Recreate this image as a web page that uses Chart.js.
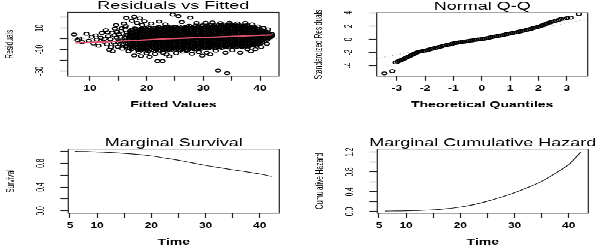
<!DOCTYPE html>
<html>
<head>
<meta charset="utf-8">
<script src="https://cdn.jsdelivr.net/npm/chart.js@4.4.0/dist/chart.umd.min.js"></script>
<style>
  html, body { margin: 0; padding: 0; background: #fff; overflow: hidden; }
  /* the original figure is squeezed vertically, so draw tall and squeeze */
  #sheet { position: relative; width: 600px; height: 412px; transform: scaleY(0.5995); transform-origin: 0 0; }
  #sheet canvas { position: absolute; }
</style>
</head>
<body>
<div id="sheet">
  <canvas id="fit-chart" width="300" height="206" style="left:0;top:0"></canvas>
  <canvas id="qq-chart" width="300" height="206" style="left:300px;top:0"></canvas>
  <canvas id="surv-chart" width="300" height="206" style="left:0;top:206px"></canvas>
  <canvas id="haz-chart" width="300" height="206" style="left:300px;top:206px"></canvas>
</div>
<script>
// ---- Residuals vs Fitted ----
// dense part of the cloud: fitted value, then the residuals read at it
const coreColumns = [
  [16.4, -7.0, -4.4, -1.6, 1.0, 3.6],
  [17.0, -8.2, -5.4, -3.1, -0.5, 1.9, 4.0, 6.9],
  [17.3, -9.8, -7.1, -4.6, -2.0, 0.6, 2.9, 5.6, 8.3],
  [17.6, -9.0, -6.6, -4.0, -1.8, 0.7, 3.0, 5.5, 8.1],
  [17.9, -8.0, -5.3, -2.8, -0.4, 1.9, 4.4, 6.8, 9.6],
  [18.2, -7.5, -5.1, -2.9, -0.2, 2.3, 4.5, 7.1, 9.2],
  [18.5, -10.2, -8.6, -6.1, -3.6, -1.1, 1.2, 3.7, 6.2, 8.5],
  [18.8, -9.7, -7.1, -4.5, -2.2, 0.3, 2.6, 5.0, 7.8],
  [19.1, -9.9, -7.5, -5.1, -2.6, -0.2, 2.3, 4.7, 7.2, 9.6],
  [19.4, -8.8, -6.2, -3.9, -1.3, 1.1, 3.4, 6.0, 8.5, 10.3],
  [19.7, -10.9, -9.6, -7.0, -4.6, -2.1, 0.2, 2.6, 5.2, 7.6, 9.8],
  [20.0, -10.4, -7.9, -5.4, -3.0, -0.8, 1.7, 4.1, 6.4, 9.1],
  [20.3, -11.5, -8.6, -6.2, -3.7, -1.4, 1.0, 3.3, 5.8, 8.3, 10.7],
  [20.6, -9.3, -6.8, -4.5, -1.9, 0.5, 2.7, 5.3, 7.5, 10.0],
  [20.9, -10.3, -8.0, -5.6, -3.1, -0.7, 1.9, 4.2, 6.8, 9.1],
  [21.2, -11.0, -8.4, -5.8, -3.6, -1.0, 1.4, 3.6, 6.2, 8.6],
  [21.5, -9.6, -7.1, -4.6, -2.2, 0.2, 2.7, 5.0, 7.6, 10.1],
  [21.8, -9.8, -7.3, -5.1, -2.5, -0.3, 2.1, 4.7, 7.0, 9.7],
  [22.1, -10.6, -8.1, -5.6, -3.1, -0.8, 1.6, 4.1, 6.5, 9.0, 11.1],
  [22.4, -11.2, -8.7, -6.1, -3.9, -1.3, 1.0, 3.5, 5.8, 8.4, 10.5],
  [22.7, -9.5, -7.0, -4.4, -2.1, 0.4, 2.8, 5.2, 7.6, 10.0],
  [23.0, -10.1, -7.6, -5.2, -2.8, -0.6, 1.9, 4.2, 6.9, 9.3],
  [23.3, -10.6, -8.1, -5.8, -3.3, -0.9, 1.4, 3.8, 6.3, 8.7, 11.2],
  [23.6, -11.0, -8.9, -6.3, -4.1, -1.5, 0.9, 3.1, 5.7, 8.0, 10.4],
  [23.9, -10.2, -7.9, -5.4, -3.1, -0.7, 1.8, 4.2, 6.5, 9.0, 11.1],
  [24.2, -9.5, -7.2, -4.6, -2.4, 0.1, 2.4, 5.0, 7.2, 9.8],
  [24.5, -9.2, -6.9, -4.4, -2.0, 0.5, 2.9, 5.2, 7.7, 10.1],
  [24.8, -10.7, -8.2, -6.0, -3.4, -1.0, 1.4, 3.6, 6.2, 8.5, 11.0],
  [25.1, -10.1, -7.8, -5.4, -2.9, -0.4, 2.0, 4.4, 6.9, 9.2, 11.4],
  [25.4, -9.2, -6.9, -4.3, -2.1, 0.5, 2.7, 5.3, 7.7, 9.9],
  [25.7, -10.1, -7.7, -5.2, -2.8, -0.2, 2.1, 4.6, 7.0, 9.4],
  [26.0, -10.5, -8.1, -5.5, -3.3, -0.7, 1.5, 4.1, 6.3, 8.8],
  [26.3, -9.7, -7.4, -4.9, -2.4, -0.1, 2.3, 4.7, 7.2, 9.6, 11.5],
  [26.6, -9.0, -6.5, -4.3, -1.7, 0.5, 3.1, 5.3, 7.9, 10.2],
  [26.9, -9.2, -6.8, -4.4, -2.0, 0.4, 2.9, 5.3, 7.6, 10.1],
  [27.2, -10.3, -7.9, -5.3, -3.1, -0.5, 1.7, 4.3, 6.5, 9.0, 11.3],
  [27.5, -9.6, -7.2, -4.7, -2.3, 0.1, 2.5, 4.9, 7.3, 9.8, 12.1],
  [27.8, -8.8, -6.4, -4.2, -1.6, 0.8, 3.0, 5.6, 7.8, 10.3],
  [28.1, -8.9, -6.5, -4.0, -1.6, 0.9, 3.3, 5.7, 8.1, 10.6],
  [28.4, -9.8, -7.5, -4.9, -2.7, -0.1, 2.3, 4.5, 7.1, 9.3, 11.6],
  [28.7, -9.3, -6.9, -4.4, -2.0, 0.4, 2.8, 5.2, 7.7, 10.1, 12.3],
  [29.0, -8.5, -6.3, -3.7, -1.5, 1.1, 3.3, 5.9, 8.1, 10.7],
  [29.3, -8.6, -6.2, -3.8, -1.4, 1.0, 3.4, 5.8, 8.3, 10.9],
  [29.6, -9.4, -7.0, -4.8, -2.2, 0.0, 2.6, 4.8, 7.4, 9.6, 12.0],
  [29.9, -9.0, -6.6, -4.1, -1.7, 0.7, 3.1, 5.6, 8.0, 10.4, 12.6],
  [30.2, -8.2, -5.8, -3.6, -1.0, 1.2, 3.8, 6.0, 8.6, 10.8],
  [30.5, -8.3, -5.9, -3.5, -1.1, 1.4, 3.8, 6.2, 8.7, 11.1],
  [30.8, -9.1, -6.9, -4.3, -2.1, 0.5, 2.7, 5.3, 7.5, 10.1, 12.2],
  [31.1, -8.6, -6.2, -3.8, -1.3, 1.1, 3.5, 6.0, 8.4, 10.8, 12.9],
  [31.4, -7.8, -5.6, -3.0, -0.8, 1.8, 4.0, 6.6, 8.8, 11.4],
  [31.7, -7.9, -5.5, -3.1, -0.6, 1.8, 4.2, 6.6, 9.1, 11.6],
  [32.0, -8.7, -6.3, -4.1, -1.5, 0.7, 3.3, 5.5, 8.1, 10.3, 12.5],
  [32.3, -8.4, -6.0, -3.6, -1.1, 1.3, 3.7, 6.2, 8.6, 11.0, 13.2],
  [32.6, -7.5, -5.3, -2.7, -0.5, 2.1, 4.3, 6.9, 9.1, 11.5],
  [32.9, -7.7, -5.3, -2.9, -0.4, 2.0, 4.4, 6.8, 9.3, 11.8],
  [33.2, -8.4, -6.2, -3.6, -1.4, 1.2, 3.4, 6.0, 8.2, 10.8, 12.8],
  [33.5, -8.1, -5.7, -3.3, -0.8, 1.6, 4.0, 6.5, 8.9, 11.3, 13.4],
  [33.8, -7.2, -5.0, -2.4, -0.2, 2.4, 4.6, 7.2, 9.4, 11.8],
  [34.1, -7.4, -5.0, -2.6, -0.1, 2.3, 4.7, 7.1, 9.6, 12.0],
  [34.4, -8.1, -5.9, -3.3, -1.1, 1.5, 3.7, 6.3, 8.5, 11.1, 13.0],
  [34.7, -7.8, -5.4, -2.9, -0.5, 1.9, 4.4, 6.8, 9.2, 11.7, 13.6],
  [35.0, -6.9, -4.7, -2.1, 0.1, 2.7, 4.9, 7.5, 9.7, 12.1],
  [35.3, -7.1, -4.6, -2.2, 0.2, 2.6, 5.1, 7.5, 9.9, 12.3],
  [35.6, -7.8, -5.4, -3.2, -0.6, 1.6, 4.2, 6.4, 9.0, 11.2, 13.1],
  [35.9, -7.4, -5.0, -2.5, -0.1, 2.3, 4.8, 7.2, 9.6, 12.0],
  [36.2, -6.7, -4.5, -1.9, 0.3, 2.9, 5.1, 7.7, 9.9, 12.2],
  [36.5, -6.9, -4.4, -2.0, 0.4, 2.9, 5.3, 7.7, 10.1, 12.4],
  [36.8, -7.5, -5.3, -2.7, -0.5, 2.1, 4.3, 6.9, 9.1, 11.4],
  [37.1, -7.0, -4.6, -2.2, 0.3, 2.7, 5.1, 7.5, 9.8, 12.0],
  [37.4, -6.4, -4.2, -1.6, 0.6, 3.2, 5.4, 8.0, 10.2, 12.3],
  [37.7, -6.6, -4.2, -1.7, 0.7, 3.1, 5.6, 8.0, 10.4, 12.6],
  [38.0, -7.1, -4.9, -2.3, -0.1, 2.5, 4.7, 7.3, 9.5, 11.5],
  [38.3, -6.3, -3.9, -1.4, 1.0, 3.4, 5.9, 8.3, 10.4],
  [38.6, -5.8, -3.6, -1.0, 1.2, 3.8, 6.0, 8.6, 10.7],
  [38.9, -6.0, -3.6, -1.2, 1.3, 3.7, 6.1, 8.6, 10.6],
  [39.2, -6.5, -4.3, -1.7, 0.5, 3.1, 5.3, 7.9, 9.9],
  [39.5, -5.2, -2.8, -0.3, 2.1, 4.5, 6.9, 9.2],
  [39.8, -4.8, -2.6, 0.0, 2.2, 4.8, 7.0, 9.1],
  [40.1, -4.3, -1.9, 0.6, 3.0, 5.4, 7.6],
  [40.4, -3.5, -1.3, 1.3, 3.5, 5.9, 8.0],
  [40.7, -2.6, -0.1, 2.3, 4.6, 6.9],
  [41.0, -1.9, 0.6, 2.8, 5.3, 6.9],
  [41.3, -0.7, 1.8, 4.0, 6.1],
  [41.6, 0.9, 3.1, 5.0],
  [41.9, 1.6, 3.4],
  [42.1, 2.5, 4.3]
];
// scattered points around the cloud: [fitted, residual]
const outerPoints = [
  [7.2, 4.0], [7.8, -1.2], [8.1, 0.3], [8.6, -3.1], [9.4, 4.6], [9.8, -1.8], [10.3, 1.9],
  [10.6, -4.4], [11.0, 3.2], [11.2, -0.8], [11.5, -6.5], [11.9, 1.0], [12.1, 5.4], [12.4, -2.7],
  [12.6, 0.2], [12.8, 8.0], [13.0, -5.0], [13.1, 6.2], [13.2, 2.4], [13.4, -10.2], [13.6, -0.4],
  [13.7, -7.7], [13.9, 5.8], [14.0, -11.6], [14.2, -3.6], [14.3, 3.3], [14.4, 9.5], [14.5, -5.2],
  [14.6, 12.7], [14.7, 1.1], [14.8, 6.4], [14.9, -7.4], [15.0, -2.8], [15.1, 4.2], [15.3, -1.9],
  [15.4, 1.9], [15.5, 7.3], [15.6, 9.8], [15.7, -9.3], [15.8, -6.0], [15.9, -4.8], [16.0, 14.2],
  [16.1, 0.6], [16.2, 10.6], [16.2, -2.1], [16.3, 12.0], [16.4, 19.5], [16.4, -6.8], [16.5, 5.9],
  [16.6, 3.8], [16.7, -8.7], [16.8, -11.6], [17.4, 16.8], [17.8, 20.5], [18.3, 14.8], [18.8, 19.0],
  [19.2, 12.9], [19.6, 16.4], [20.8, 14.3], [22.2, 16.0], [23.3, 13.4], [24.6, 22.6], [25.6, 21.0],
  [26.2, 15.5], [27.7, 19.7], [28.8, 14.8], [30.4, 14.9], [31.6, 15.2], [33.0, 14.6], [34.6, 15.0],
  [36.0, 14.4], [37.4, 14.8], [38.6, 13.4], [39.6, 11.6], [40.6, 10.0], [41.4, 8.8], [41.2, -4.6],
  [40.2, -7.6], [39.2, -9.7], [38.4, -11.6], [37.8, -9.8], [36.5, -12.9], [35.1, -10.6], [33.9, -12.9],
  [32.2, -11.0], [31.2, -14.4], [30.6, -12.9], [29.8, -15.6], [29.2, -12.4], [28.0, -13.9], [27.1, -11.2],
  [26.4, -12.0], [25.2, -13.3], [24.0, -16.2], [23.5, -14.6], [22.9, -13.0], [22.8, -20.8], [21.9, -20.8],
  [21.5, -14.1], [20.5, -16.8], [20.0, -13.4], [19.0, -16.0], [18.6, -12.3], [17.8, -15.5],
  [32.6, -29.5], [34.2, -32.0]
];
const smoothFitted = [7.4, 10, 13, 16, 19, 22, 25, 28, 31, 34, 37, 40, 42.2];
const smoothResid = [-3.7, -3.4, -2.8, -2.0, -1.2, -0.4, 0.3, 0.9, 1.5, 2.0, 2.6, 3.2, 3.6];
const fittedRange = [6.07, 43.35];
const residRange = [-34.65, 24.65];
const fittedTicks = [10, 15, 20, 25, 30, 35, 40];
const fittedLabelled = [10, 20, 30, 40];
const residTicks = [-30, -20, -10, 0, 10, 20];
const residLabelled = [10, -10, -30];

// ---- Normal Q-Q ----
const qqTheoretical = [-3.44, -3.16, -3.04, -2.97, -2.91, -2.86, -2.81, -2.76, -2.71, -2.66,
  -2.61, -2.56, -2.51, -2.46, -2.41, -2.36, -2.31, -2.26, -2.20, -2.14,
  -2.07, -2.00, -1.93, -1.86, -1.79, -1.72, -1.65, -1.58, -1.51, -1.44,
  -1.37, -1.30, -1.23, -1.16, -1.09, -1.02, -0.95, -0.88, -0.81, -0.74,
  -0.67, -0.60, -0.53, -0.46, -0.39, -0.32, -0.25, -0.18, -0.11, -0.04,
  0.03, 0.10, 0.17, 0.24, 0.31, 0.38, 0.45, 0.52, 0.59, 0.66,
  0.73, 0.80, 0.87, 0.94, 1.01, 1.08, 1.15, 1.22, 1.29, 1.36,
  1.43, 1.50, 1.57, 1.64, 1.71, 1.78, 1.85, 1.92, 1.99, 2.05,
  2.11, 2.17, 2.23, 2.29, 2.35, 2.41, 2.47, 2.54, 2.62, 2.71,
  2.80, 2.90, 3.01, 3.14, 3.43];
const qqStdResid = [-5.15, -4.80, -3.48, -3.37, -3.25, -3.17, -3.06, -2.98, -2.86, -2.78,
  -2.66, -2.57, -2.44, -2.36, -2.23, -2.14, -2.02, -1.95, -1.86, -1.83,
  -1.75, -1.71, -1.61, -1.56, -1.46, -1.40, -1.31, -1.25, -1.15, -1.09,
  -1.00, -0.94, -0.85, -0.80, -0.70, -0.65, -0.57, -0.54, -0.47, -0.44,
  -0.37, -0.35, -0.28, -0.25, -0.18, -0.16, -0.09, -0.07, -0.01, 0.00,
  0.07, 0.10, 0.18, 0.22, 0.30, 0.34, 0.42, 0.46, 0.54, 0.58,
  0.66, 0.70, 0.78, 0.82, 0.90, 0.94, 1.02, 1.06, 1.15, 1.19,
  1.28, 1.32, 1.42, 1.48, 1.58, 1.64, 1.74, 1.80, 1.90, 1.97,
  2.08, 2.15, 2.28, 2.36, 2.50, 2.56, 2.65, 2.71, 2.83, 2.94,
  3.07, 3.13, 3.22, 3.29, 3.83];
const qqLineIntercept = 0.07;
const qqLineSlope = 0.8;
const qqXRange = [-3.71, 3.74];
const qqYRange = [-5.56, 4.03];
const qqXTicks = [-3, -2, -1, 0, 1, 2, 3];
const qqYTicks = [-4, -2, 0, 2, 4];

// ---- Marginal Survival / Cumulative Hazard ----
const survTime = [5.9, 8, 10, 12, 14, 16, 18, 20, 22, 24, 26, 28, 30, 32, 34, 36, 38, 40, 42.2];
const survProb = [1.0, 0.996, 0.99, 0.982, 0.972, 0.96, 0.944, 0.923, 0.895, 0.866, 0.834, 0.799,
  0.764, 0.734, 0.705, 0.677, 0.649, 0.62, 0.58];
const hazTime = [6.1, 8, 10, 12, 15, 17.5, 20, 22.5, 25, 27.5, 30, 32.5, 35, 37.5, 40, 41, 42.2];
const cumHazard = [0.01, 0.012, 0.015, 0.021, 0.035, 0.058, 0.09, 0.14, 0.21, 0.29, 0.38, 0.49,
  0.61, 0.77, 0.95, 1.06, 1.2];
const timeRange = [4.69, 43.6];
const timeTicks = [5, 10, 15, 20, 25, 30, 35, 40];
const timeLabelled = [5, 10, 20, 30, 40];
const survRange = [-0.04, 1.04];
const survTicks = [0, 0.2, 0.4, 0.6, 0.8, 1.0];
const survLabelled = [0, 0.4, 0.8];
const hazRange = [-0.035, 1.265];
const hazTicks = [0, 0.2, 0.4, 0.6, 0.8, 1.0, 1.2];
const hazLabelled = [0, 0.4, 0.8, 1.2];

const FONT = "'Liberation Sans', Arial, Helvetica, sans-serif";
Chart.defaults.font.family = FONT;
Chart.defaults.color = "#000";

const pairUp = (xs, ys) => xs.map((x, i) => ({ x: x, y: ys[i] }));

// box round the plotting region, like R's box()
const plotFrame = {
  id: "plotFrame",
  afterDraw(chart) {
    const { ctx, chartArea: a } = chart;
    ctx.save();
    ctx.strokeStyle = "#222";
    ctx.lineWidth = 1.2;
    ctx.strokeRect(a.left, a.top, a.right - a.left, a.bottom - a.top);
    ctx.restore();
  },
};

// main title centred on the plot region; R lets it run past the box,
// the built-in title would squeeze it to the box width
const panelTitle = {
  id: "panelTitle",
  afterDraw(chart, args, opts) {
    const { ctx, chartArea: a } = chart;
    ctx.save();
    ctx.font = "18px " + FONT;
    ctx.fillStyle = "#000";
    ctx.textAlign = "center";
    ctx.textBaseline = "middle";
    ctx.fillText(opts.text, (a.left + a.right) / 2, a.top - 10);
    ctx.restore();
  },
};

function axis(side, cfg) {
  const vertical = side === "left";
  return {
    type: "linear",
    position: side,
    min: cfg.range[0],
    max: cfg.range[1],
    afterBuildTicks: (scale) => {
      scale.ticks = cfg.ticks.map((v) => ({ value: v }));
    },
    afterFit: (scale) => {
      if (vertical) scale.width = 67.7;
      else scale.height = 56;
    },
    grid: { drawOnChartArea: false, drawTicks: true, tickLength: 8, tickColor: "#222", tickWidth: 1.2 },
    border: { display: false },
    ticks: {
      autoSkip: false,
      minRotation: vertical ? 90 : 0,
      maxRotation: vertical ? 90 : 0,
      crossAlign: vertical ? "center" : "near",
      padding: vertical ? cfg.gap : 5.7,
      font: vertical ? { size: 11 } : { size: 12, weight: "bold" },
      callback: (v) => (cfg.labelled.includes(v) ? (cfg.digits ? v.toFixed(cfg.digits) : String(v)) : ""),
    },
    title: {
      display: true,
      text: cfg.title,
      font: vertical ? { size: 11, lineHeight: 1 } : { size: 14, weight: "bold", lineHeight: 1 },
      padding: vertical ? { top: 4.7, bottom: 0 } : { top: 0, bottom: 1 },
    },
  };
}

function panel(canvasId, title, pad, datasets, xAxis, yAxis) {
  new Chart(document.getElementById(canvasId), {
    type: "scatter",
    data: { datasets: datasets },
    options: {
      responsive: false,
      animation: false,
      events: [],
      layout: { padding: pad, autoPadding: false },
      plugins: {
        legend: { display: false },
        tooltip: { enabled: false },
        panelTitle: { text: title },
      },
      scales: { x: axis("bottom", xAxis), y: axis("left", yAxis) },
    },
    plugins: [plotFrame, panelTitle],
  });
}

const circle = {
  showLine: false,
  pointRadius: 2.5,
  pointBorderWidth: 1.3,
  pointBorderColor: "#000",
  pointBackgroundColor: "rgba(0,0,0,0)",
};

const residualPoints = [];
coreColumns.forEach((col) => {
  col.slice(1).forEach((r) => residualPoints.push({ x: col[0], y: r }));
});
outerPoints.forEach((p) => residualPoints.push({ x: p[0], y: p[1] }));

panel(
  "fit-chart",
  "Residuals vs Fitted",
  { top: 20.5, left: 0, right: 21, bottom: 23.2 },
  [
    { data: pairUp(smoothFitted, smoothResid), showLine: true, borderColor: "#DF536B", borderWidth: 2.2, pointRadius: 0, tension: 0.3 },
    Object.assign({ data: residualPoints }, circle),
    { data: [{ x: fittedRange[0], y: 0 }, { x: fittedRange[1], y: 0 }], showLine: true, borderColor: "#b4b4b4", borderDash: [1.5, 2.5], borderWidth: 1, pointRadius: 0 },
  ],
  { range: fittedRange, ticks: fittedTicks, labelled: fittedLabelled, title: "Fitted Values" },
  { range: residRange, ticks: residTicks, labelled: residLabelled, title: "Residuals", gap: 11.5 }
);

panel(
  "qq-chart",
  "Normal Q-Q",
  { top: 20.5, left: 9, right: 12.3, bottom: 23.2 },
  [
    Object.assign({ data: pairUp(qqTheoretical, qqStdResid) }, circle),
    {
      data: qqXRange.map((q) => ({ x: q, y: qqLineIntercept + qqLineSlope * q })),
      showLine: true, borderColor: "#a8a8a8", borderDash: [1.5, 2.5], borderWidth: 1, pointRadius: 0,
    },
  ],
  { range: qqXRange, ticks: qqXTicks, labelled: qqXTicks, title: "Theoretical Quantiles" },
  { range: qqYRange, ticks: qqYTicks, labelled: qqYTicks, title: "Standardized Residuals", gap: 14.6 }
);

panel(
  "surv-chart",
  "Marginal Survival",
  { top: 42.6, left: 0.6, right: 20.7, bottom: 0.2 },
  [{ data: pairUp(survTime, survProb), showLine: true, borderColor: "#222", borderWidth: 1.2, pointRadius: 0, tension: 0.3 }],
  { range: timeRange, ticks: timeTicks, labelled: timeLabelled, title: "Time" },
  { range: survRange, ticks: survTicks, labelled: survLabelled, title: "Survival", gap: 11.85, digits: 1 }
);

panel(
  "haz-chart",
  "Marginal Cumulative Hazard",
  { top: 42.6, left: 9.6, right: 11.7, bottom: 0.2 },
  [{ data: pairUp(hazTime, cumHazard), showLine: true, borderColor: "#222", borderWidth: 1.2, pointRadius: 0, tension: 0.3 }],
  { range: timeRange, ticks: timeTicks, labelled: timeLabelled, title: "Time" },
  { range: hazRange, ticks: hazTicks, labelled: hazLabelled, title: "Cumulative Hazard", gap: 11.85, digits: 1 }
);
</script>
</body>
</html>
